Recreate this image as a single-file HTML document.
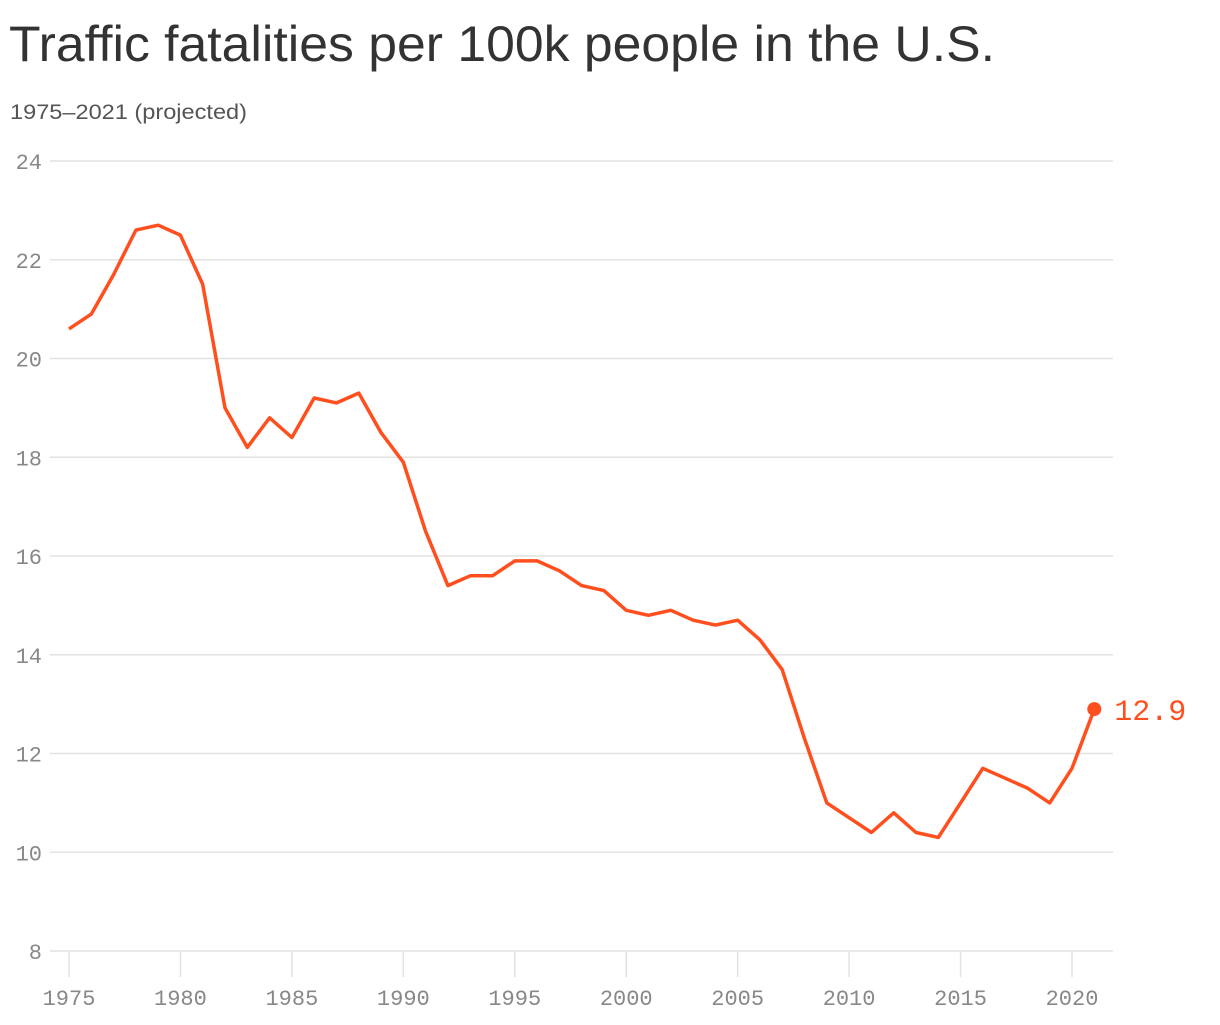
<!DOCTYPE html>
<html><head><meta charset="utf-8"><style>
body{margin:0;background:#fff;width:1220px;height:1020px;overflow:hidden}
</style></head><body>
<svg width="1220" height="1020">
<text x="9" y="61" font-family="Liberation Sans, sans-serif" font-size="50" fill="#333" textLength="986" lengthAdjust="spacingAndGlyphs">Traffic fatalities per 100k people in the U.S.</text>
<text x="10" y="119" font-family="Liberation Sans, sans-serif" font-size="21" fill="#555" textLength="237" lengthAdjust="spacingAndGlyphs">1975–2021 (projected)</text>
<g id="grid"></g><g id="xaxis"></g>
<path id="line" fill="none" stroke="#ff4f1f" stroke-width="3.5" stroke-linejoin="round"></path>
<g id="end"></g>
</svg>
<script>
const years=[];for(let y=1975;y<=2021;y++)years.push(y);
const values=[20.6,20.9,21.7,22.6,22.7,22.5,21.5,19.0,18.2,18.8,18.4,19.2,19.1,19.3,18.5,17.9,16.5,15.4,15.6,15.6,15.9,15.9,15.7,15.4,15.3,14.9,14.8,14.9,14.7,14.6,14.7,14.3,13.7,12.3,11.0,10.7,10.4,10.8,10.4,10.3,11.0,11.7,11.5,11.3,11.0,11.7,12.9];
const yTicks=[8,10,12,14,16,18,20,22,24];
const xTicks=[1975,1980,1985,1990,1995,2000,2005,2010,2015,2020];
const NS='http://www.w3.org/2000/svg';
const xs=y=>69+(y-1975)*(1003/45);
const ys=v=>951-(v-8)*(790/16);
function mk(t,a,p){const e=document.createElementNS(NS,t);for(const k in a)e.setAttribute(k,a[k]);p.appendChild(e);return e;}
const g=document.getElementById('grid'),xa=document.getElementById('xaxis');
yTicks.forEach(v=>{
const l=mk('line',{x1:50,x2:1113,y1:ys(v),y2:ys(v),stroke:'#e2e2e2','stroke-width':1.5},g);


const t=mk('text',{x:42,y:ys(v)+8,'text-anchor':'end','font-family':'Liberation Mono, monospace','font-size':22,fill:'#888'},g);
t.textContent=v;


});
xTicks.forEach(y=>{
const l=mk('line',{x1:xs(y),x2:xs(y),y1:952,y2:977,stroke:'#e2e2e2','stroke-width':1.5},xa);


const t=mk('text',{x:xs(y),y:1005,'text-anchor':'middle','font-family':'Liberation Mono, monospace','font-size':22,fill:'#888'},xa);
t.textContent=y;


});
document.getElementById('line').setAttribute('d',values.map((v,i)=>(i?'L':'M')+xs(years[i]).toFixed(1)+','+ys(v).toFixed(1)).join(''));
const e=document.getElementById('end');const n=values.length-1;
const c=mk('circle',{cx:xs(years[n]),cy:ys(values[n]),r:7,fill:'#ff4f1f'},e);


const lt=mk('text',{x:xs(years[n])+20,y:ys(values[n])+11,'font-family':'Liberation Mono, monospace','font-size':30,fill:'#ff4f1f'},e);
lt.textContent=values[n];


</script>
</body></html>
